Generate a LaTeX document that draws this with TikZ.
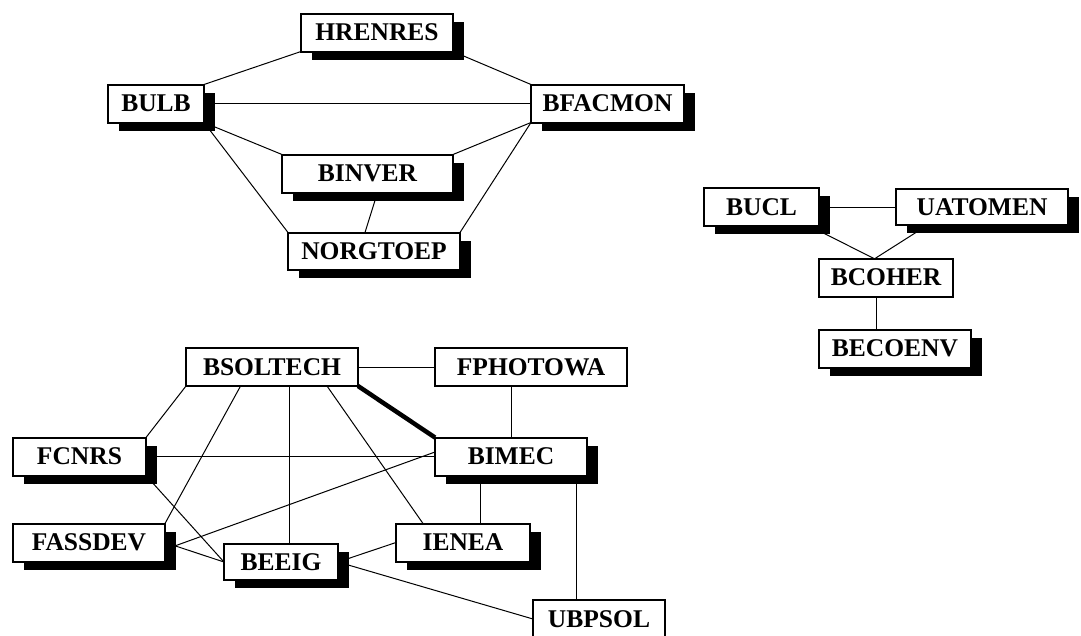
\documentclass[tikz,border=0pt]{standalone}
\usepackage{fontspec}
\setmainfont{Liberation Serif}
\usetikzlibrary{backgrounds,shadows}

\begin{document}
\begin{tikzpicture}[x=1pt,y=-1pt,
  box/.style={draw,line width=2pt,fill=white,inner sep=0pt,outer sep=0pt,
    minimum height=38pt,font=\fontsize{25.5}{30}\selectfont\bfseries},
  sbox/.style={box,drop shadow={shadow xshift=11pt,shadow yshift=-8pt,fill=black,opacity=1}},
  link/.style={line width=1pt}]
  \useasboundingbox (0,0) rectangle (1081,635);
  \node[sbox,minimum width=152pt] (hrenres) at (377,32.5) {HRENRES};
  \node[sbox,minimum width=96pt] (bulb) at (156,103.5) {BULB};
  \node[sbox,minimum width=153pt] (bfacmon) at (607.5,103.5) {BFACMON};
  \node[sbox,minimum width=171pt] (binver) at (367.5,173.5) {BINVER};
  \node[sbox,minimum width=172pt,minimum height=37pt] (norgtoep) at (374,251) {NORGTOEP};
  \node[sbox,minimum width=115pt] (bucl) at (761.5,207) {BUCL};
  \node[sbox,minimum width=172pt,minimum height=36pt] (uatomen) at (982,207) {UATOMEN};
  \node[box,minimum width=134pt] (bcoher) at (886,277.5) {BCOHER};
  \node[sbox,minimum width=152pt] (becoenv) at (895,348.5) {BECOENV};
  \node[box,minimum width=172pt] (bsoltech) at (272,367) {BSOLTECH};
  \node[box,minimum width=192pt] (fphotowa) at (531,367) {FPHOTOWA};
  \node[sbox,minimum width=133pt] (fcnrs) at (79.5,456.5) {FCNRS};
  \node[sbox,minimum width=152pt] (bimec) at (511,456.5) {BIMEC};
  \node[sbox,minimum width=152pt] (fassdev) at (89,542.5) {FASSDEV};
  \node[sbox,minimum width=114pt,minimum height=36pt] (beeig) at (281,562) {BEEIG};
  \node[sbox,minimum width=134pt] (ienea) at (463,542.5) {IENEA};
  \node[box,minimum width=132pt] (ubpsol) at (599,619) {UBPSOL};
  \begin{pgfonlayer}{background}
    \draw[link] (bulb.north east)--(hrenres.south west);
    \draw[link] (hrenres.south east)--(bfacmon.north west);
    \draw[link] (bulb)--(bfacmon);
    \draw[link] (bulb.south east)--(binver.north west);
    \draw[link] (bulb.south east)--(norgtoep.north west);
    \draw[link] (bfacmon.south west)--(binver.north east);
    \draw[link] (bfacmon.south west)--(norgtoep.north east);
    \draw[link] ([xshift=10pt]binver.south)--([xshift=-9pt]norgtoep.north);
    \draw[link] (bucl)--(uatomen);
    \draw[link] ([xshift=10pt]bucl.center)--([xshift=-12pt]bcoher.north);
    \draw[link] ([xshift=-26pt]uatomen.center)--([xshift=-11pt]bcoher.north);
    \draw[link] ([xshift=-10pt]bcoher.south)--([xshift=-10pt]bcoher.south |- becoenv.north);
    \draw[link] (bsoltech)--(fphotowa);
    \draw[line width=4.5pt] (bsoltech.south east)--(bimec.north west);
    \draw[link] (bimec)--(bimec |- fphotowa.south);
    \draw[link] (bsoltech.south west)--(fcnrs.north east);
    \draw[link] ([xshift=-21pt]bsoltech.center)--(fassdev.north east);
    \draw[link] ([xshift=8pt]beeig.north)--([xshift=8pt]beeig.north |- bsoltech.south);
    \draw[link] ([xshift=55pt]bsoltech.south)--([xshift=-40pt]ienea.north);
    \draw[link] (fcnrs)--(bimec);
    \draw[link] (fcnrs.south east)--(beeig.west);
    \draw[link] ([yshift=-7pt]fassdev.east)--([yshift=4.5pt]bimec.west);
    \draw[link] (fassdev.east)--(beeig.west);
    \draw[link] (beeig.east)--(ienea.west);
    \draw[link] (beeig.east)--(ubpsol.west);
    \draw[link] ([xshift=17pt]ienea.north)--([xshift=17pt]ienea.north |- bimec.south);
    \draw[link] ([xshift=-23pt]ubpsol.north)--([xshift=-23pt]ubpsol.north |- bimec.south);
  \end{pgfonlayer}
\end{tikzpicture}
\end{document}
